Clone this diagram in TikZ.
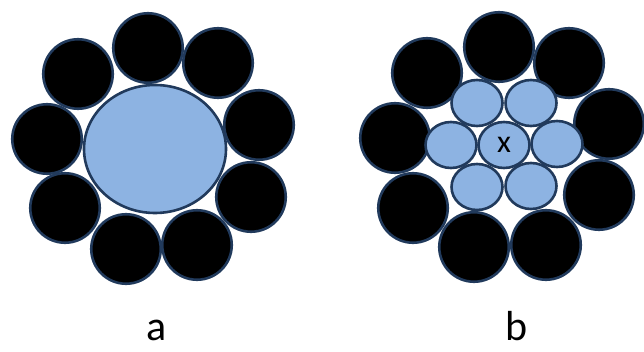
\documentclass[tikz,border=0pt]{standalone}
\usepackage{fontspec}
\setmainfont{Carlito}
\usetikzlibrary{shapes.geometric}
\definecolor{edgec}{HTML}{213A5C}
\definecolor{fillb}{HTML}{8DB3E2}
\begin{document}
\begin{tikzpicture}[x=1pt,y=-1pt,
  blk/.style={circle,draw=edgec,line width=2.6pt,fill=black,minimum size=69.5pt,inner sep=0pt},
  core/.style={ellipse,draw=edgec,line width=2.6pt,fill=fillb,inner sep=0pt},
  lab/.style={font=\fontsize{42}{44}\selectfont,inner sep=0pt}]
\useasboundingbox (0,0) rectangle (644,352);
% diagram a
\node[core,minimum width=142pt,minimum height=128pt] (A) at (155,149) {};
\node[blk] (a1) at (148,48) {};
\node[blk] (a2) at (218,63) {};
\node[blk] (a3) at (259,125) {};
\node[blk] (a4) at (251,197) {};
\node[blk] (a5) at (197,245) {};
\node[blk] (a6) at (126,249) {};
\node[blk] (a7) at (65,208) {};
\node[blk] (a8) at (47,139) {};
\node[blk] (a9) at (78,74) {};
% diagram b
\node[blk] (b1) at (499,47) {};
\node[blk] (b2) at (569,63) {};
\node[blk] (b3) at (609,124) {};
\node[blk] (b4) at (599,195) {};
\node[blk] (b5) at (546,245) {};
\node[blk] (b6) at (474,247) {};
\node[blk] (b7) at (413,208) {};
\node[blk] (b8) at (395,138) {};
\node[blk] (b9) at (427,73) {};
\tikzset{sm/.style={core,minimum width=51pt,minimum height=46pt}}
\node[sm] (c0) at (504,145) {};
\node[sm] (c1) at (477,103) {};
\node[sm] (c2) at (531,103) {};
\node[sm] (c3) at (451,145) {};
\node[sm] (c4) at (557,144) {};
\node[sm] (c5) at (477,187) {};
\node[sm] (c6) at (531,186) {};
\node[font=\fontsize{32}{34}\selectfont,inner sep=0pt] (x) at (c0) {x};
% labels
\node[lab,anchor=base] (la) at (157,340) {a};
\node[lab,anchor=base] (lb) at (517,340) {b};
\end{tikzpicture}
\end{document}
